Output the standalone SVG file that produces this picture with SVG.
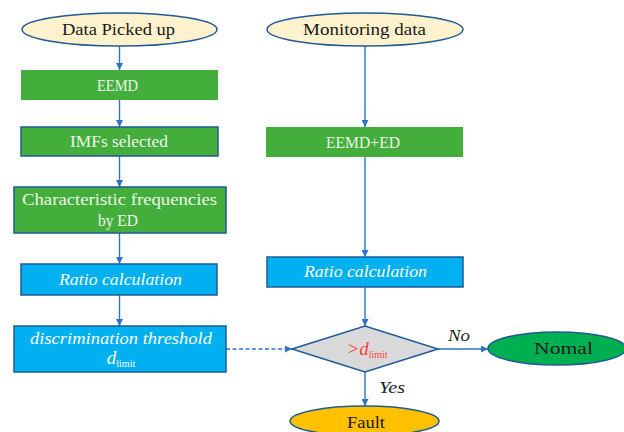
<svg xmlns="http://www.w3.org/2000/svg" width="624" height="432" viewBox="0 0 624 432">
  <style>
    text { font-family: "Liberation Serif", "Times New Roman", serif; font-size: 17px; text-anchor: middle; }
    .dark { fill: #1a1a1a; }
    .light { fill: #eef6e8; }
    .white { fill: #ffffff; font-style: italic; }
    .lbl { fill: #222222; font-style: italic; }
    .sub { font-style: normal; font-size: 10px; }
    .start { fill: #fff2cc; stroke: #1f5a96; stroke-width: 1.5; }
    .green { fill: #43ae3c; }
    .greenb { fill: #43ae3c; stroke: #1f5a96; stroke-width: 1.5; }
    .blue { fill: #00b0f0; stroke: #1f5a96; stroke-width: 1.5; }
    .conn { stroke: #2e74c6; stroke-width: 1.4; fill: none; marker-end: url(#arr); }
    .dash { stroke-dasharray: 4 2.5; }
  </style>
  <defs>
    <marker id="arr" viewBox="0 0 10 10" refX="10" refY="5" markerWidth="7" markerHeight="7" orient="auto" markerUnits="userSpaceOnUse">
      <path d="M0,0 L10,5 L0,10 Z" fill="#2e74c6"/>
    </marker>
  </defs>

  <g id="connectors">
    <line class="conn" x1="119.5" y1="46" x2="119.5" y2="70"/>
    <line class="conn" x1="119.5" y1="100" x2="119.5" y2="127"/>
    <line class="conn" x1="119.5" y1="156" x2="119.5" y2="187"/>
    <line class="conn" x1="119.5" y1="233" x2="119.5" y2="264"/>
    <line class="conn" x1="119.5" y1="295" x2="119.5" y2="326"/>
    <line class="conn dash" x1="226" y1="349" x2="292" y2="349"/>
    <line class="conn" x1="365" y1="46" x2="365" y2="127"/>
    <line class="conn" x1="365" y1="157" x2="365" y2="257"/>
    <line class="conn" x1="365" y1="287" x2="365" y2="326"/>
    <line class="conn" x1="438" y1="349" x2="488" y2="349"/>
    <line class="conn" x1="365" y1="372" x2="365" y2="406"/>
    <text class="lbl" x="459" y="341" textLength="22" lengthAdjust="spacingAndGlyphs">No</text>
    <text class="lbl" x="392" y="393" textLength="26" lengthAdjust="spacingAndGlyphs">Yes</text>
  </g>

  <g id="data-picked-up">
    <ellipse class="start" cx="119.5" cy="29.5" rx="97.5" ry="16.5"/>
    <text class="dark" x="118.5" y="35" textLength="113" lengthAdjust="spacingAndGlyphs">Data Picked up</text>
  </g>

  <g id="eemd">
    <rect class="green" x="21" y="70" width="197" height="30"/>
    <text class="light" x="117.5" y="91" textLength="41" lengthAdjust="spacingAndGlyphs">EEMD</text>
  </g>

  <g id="imfs-selected">
    <rect class="greenb" x="21" y="127" width="197" height="29"/>
    <text class="light" x="119" y="147" textLength="98" lengthAdjust="spacingAndGlyphs">IMFs selected</text>
  </g>

  <g id="characteristic-frequencies">
    <rect class="greenb" x="14" y="187" width="212" height="46"/>
    <text class="light" x="119.5" y="205" textLength="195" lengthAdjust="spacingAndGlyphs">Characteristic frequencies</text>
    <text class="light" x="118" y="226" textLength="40" lengthAdjust="spacingAndGlyphs">by ED</text>
  </g>

  <g id="ratio-left">
    <rect class="blue" x="21" y="264" width="196" height="31"/>
    <text class="white" x="120.5" y="285" textLength="123" lengthAdjust="spacingAndGlyphs">Ratio calculation</text>
  </g>

  <g id="discrimination-threshold">
    <rect class="blue" x="14" y="326" width="212" height="46"/>
    <text class="white" x="121" y="344" textLength="182" lengthAdjust="spacingAndGlyphs">discrimination threshold</text>
    <text class="white" x="121" y="364"><tspan font-size="19">d</tspan><tspan class="sub" dy="3">limit</tspan></text>
  </g>

  <g id="monitoring-data">
    <ellipse class="start" cx="365" cy="29.5" rx="98" ry="16.5"/>
    <text class="dark" x="364.5" y="35" textLength="123" lengthAdjust="spacingAndGlyphs">Monitoring data</text>
  </g>

  <g id="eemd-ed">
    <rect class="green" x="266" y="127" width="197" height="30"/>
    <text class="light" x="363" y="148" textLength="74" lengthAdjust="spacingAndGlyphs">EEMD+ED</text>
  </g>

  <g id="ratio-right">
    <rect class="blue" x="267" y="257" width="196" height="30"/>
    <text class="white" x="365.5" y="277" textLength="123" lengthAdjust="spacingAndGlyphs">Ratio calculation</text>
  </g>

  <g id="decision">
    <polygon points="292,349 365,326 438,349 365,372" fill="#d9d9d9" stroke="#1f5a96" stroke-width="1.5"/>
    <text x="367" y="355" fill="#ff3b3b" font-style="italic"><tspan font-size="19">&gt;d</tspan><tspan class="sub" dy="3">limit</tspan></text>
  </g>

  <g id="normal">
    <ellipse cx="557" cy="348.5" rx="69" ry="16.5" fill="#00b050" stroke="#1f5a96" stroke-width="1.5"/>
    <text class="dark" x="563.5" y="354" textLength="59" lengthAdjust="spacingAndGlyphs">Nomal</text>
  </g>

  <g id="fault">
    <ellipse cx="364.5" cy="421" rx="74.5" ry="15" fill="#ffc000" stroke="#1f5a96" stroke-width="1.5"/>
    <text class="dark" x="366" y="428" textLength="38" lengthAdjust="spacingAndGlyphs">Fault</text>
  </g>
</svg>
